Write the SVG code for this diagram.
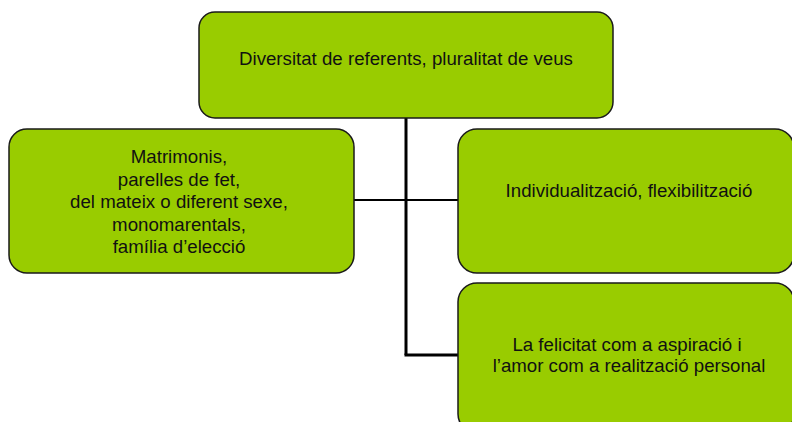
<svg xmlns="http://www.w3.org/2000/svg" width="792" height="422" viewBox="0 0 792 422">
<style>
.box{fill:#99CC00;stroke:#1a1a1a;stroke-width:1.5}
.t{font-family:"Liberation Sans",Arial,sans-serif;font-size:18.67px;fill:#111;text-anchor:middle}
.c{fill:none;stroke:#000}
</style>
<rect width="792" height="422" fill="#fff"/>
<g id="connectors">
<path class="c" d="M406 118 V355" stroke-width="3"/>
<path class="c" d="M354 200 H458" stroke-width="2"/>
<path class="c" d="M404.5 355 H458" stroke-width="3"/>
</g>
<g id="top">
<rect class="box" x="199" y="12" width="414" height="106" rx="16"/>
<text class="t" x="406" y="65">Diversitat de referents, pluralitat de veus</text>
</g>
<g id="left">
<rect class="box" x="9" y="129" width="345" height="144" rx="18"/>
<text class="t" x="179" y="163">Matrimonis,</text>
<text class="t" x="179" y="185.5">parelles de fet,</text>
<text class="t" x="179" y="208">del mateix o diferent sexe,</text>
<text class="t" x="179" y="230.5">monomarentals,</text>
<text class="t" x="179" y="253">família d’elecció</text>
</g>
<g id="right1">
<rect class="box" x="458" y="129" width="336" height="144" rx="19"/>
<text class="t" x="629" y="197">Individualització, flexibilització</text>
</g>
<g id="right2">
<rect class="box" x="458" y="283" width="336" height="150" rx="19"/>
<text class="t" x="627" y="351">La felicitat com a aspiració i</text>
<text class="t" x="629" y="372">l’amor com a realització personal</text>
</g>
</svg>
